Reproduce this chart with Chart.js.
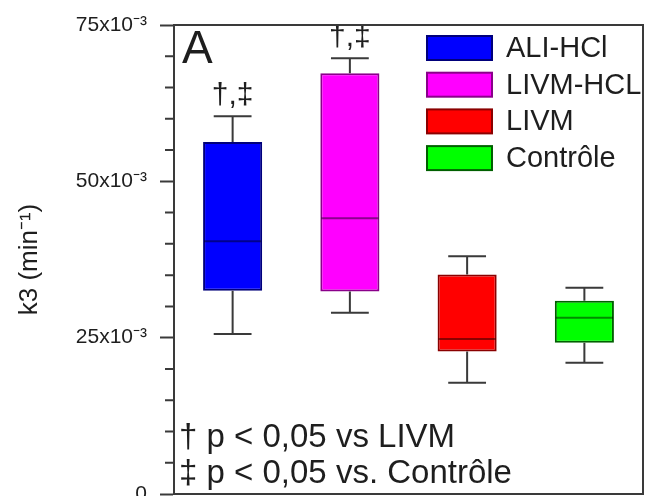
<!DOCTYPE html>
<html><head><meta charset="utf-8">
<script src="https://cdn.jsdelivr.net/npm/chart.js@4/dist/chart.umd.min.js"></script>
<style>html,body{margin:0;padding:0;background:#fff}#wrap{width:652px;height:496px}</style>
</head><body><div id="wrap"><canvas id="c" width="652" height="496"></canvas></div>
<script>
const categories = ['ALI-HCl', 'LIVM-HCL', 'LIVM', 'Contrôle'];
const whiskerLow = [25.6, 29.0, 17.8, 21.0];
const q1 = [32.5, 32.4, 22.8, 24.2];
const median = [40.4, 44.1, 24.8, 28.2];
const q3 = [56.3, 67.3, 35.1, 30.9];
const whiskerHigh = [60.4, 69.7, 38.0, 33.0];
const significance = ['†,‡', '†,‡', '', ''];
const yTickLabels = {0: '0', 25: '25x10⁻³', 50: '50x10⁻³', 75: '75x10⁻³'};
const footnotes = ['† p < 0,05 vs LIVM', '‡ p < 0,05 vs. Contrôle'];
const panelLabel = 'A';
const yTitle = 'k3 (min⁻¹)';

const fillColors = ['#0000ff', '#ff00ff', '#ff0000', '#00ff00'];
const edgeColors = ['#00007a', '#8a008a', '#8a0000', '#006000'];
const FONT = "'Liberation Sans', Arial, sans-serif";
const INK = '#1e1e1e';
const AXIS = '#3a3a3a';

const overlay = {
  id: 'overlay',
  afterDatasetsDraw(chart) {
    const ctx = chart.ctx, y = chart.scales.y, ca = chart.chartArea;
    const meta = chart.getDatasetMeta(0);
    ctx.save();
    meta.data.forEach((bar, i) => {
      const x = bar.x, hw = bar.width * 0.32;
      const yh = y.getPixelForValue(whiskerHigh[i]);
      const yl = y.getPixelForValue(whiskerLow[i]);
      const yq1 = y.getPixelForValue(q1[i]);
      const yq3 = y.getPixelForValue(q3[i]);
      const ym = y.getPixelForValue(median[i]);
      ctx.strokeStyle = AXIS; ctx.lineWidth = 2;
      ctx.beginPath();
      ctx.moveTo(x, yq3); ctx.lineTo(x, yh);
      ctx.moveTo(x - hw, yh); ctx.lineTo(x + hw, yh);
      ctx.moveTo(x, yq1); ctx.lineTo(x, yl);
      ctx.moveTo(x - hw, yl); ctx.lineTo(x + hw, yl);
      ctx.stroke();
      ctx.strokeStyle = 'rgba(0,0,0,0.45)';
      ctx.beginPath();
      ctx.moveTo(x - bar.width / 2 + 1, ym); ctx.lineTo(x + bar.width / 2 - 1, ym);
      ctx.stroke();
      if (significance[i]) {
        ctx.fillStyle = INK;
        ctx.font = '30px ' + FONT;
        ctx.textAlign = 'center'; ctx.textBaseline = 'alphabetic';
        ctx.fillText(significance[i], x, yh - 12);
      }
    });
    // minor ticks
    ctx.strokeStyle = AXIS; ctx.lineWidth = 2;
    ctx.beginPath();
    for (let v = 5; v < 75; v += 5) {
      if (v % 25 === 0) continue;
      const py = y.getPixelForValue(v);
      ctx.moveTo(ca.left - 9, py); ctx.lineTo(ca.left, py);
    }
    ctx.stroke();
    // frame
    ctx.beginPath();
    ctx.moveTo(ca.left, ca.top); ctx.lineTo(ca.right, ca.top);
    ctx.lineTo(ca.right, ca.bottom); ctx.lineTo(ca.left, ca.bottom);
    ctx.stroke();
    // panel label
    ctx.fillStyle = INK;
    ctx.textAlign = 'left'; ctx.textBaseline = 'alphabetic';
    ctx.font = '46px ' + FONT;
    ctx.fillText(panelLabel, ca.left + 8, ca.top + 38);
    // legend
    ctx.font = '29px ' + FONT;
    ctx.textBaseline = 'middle';
    categories.forEach((c, i) => {
      const sx = ca.right - 216, sy = ca.top + 11 + i * 36.7, w = 65, h = 24;
      ctx.fillStyle = fillColors[i];
      ctx.fillRect(sx, sy, w, h);
      ctx.strokeStyle = edgeColors[i]; ctx.lineWidth = 2;
      ctx.strokeRect(sx, sy, w, h);
      ctx.fillStyle = INK;
      ctx.fillText(c, sx + 79, sy + h / 2 + 1);
    });
    // footnotes
    ctx.font = '33px ' + FONT;
    ctx.textBaseline = 'alphabetic';
    ctx.fillText(footnotes[0], ca.left + 5, ca.bottom - 47);
    ctx.fillText(footnotes[1], ca.left + 5, ca.bottom - 11);
    ctx.restore();
  }
};

new Chart(document.getElementById('c'), {
  type: 'bar',
  data: {
    labels: categories,
    datasets: [{
      data: q1.map((v, i) => [v, q3[i]]),
      backgroundColor: fillColors,
      borderColor: edgeColors,
      borderWidth: 2,
      borderSkipped: false,
      barPercentage: 0.504,
      categoryPercentage: 1
    }]
  },
  options: {
    responsive: false,
    animation: false,
    devicePixelRatio: 1,
    layout: {padding: {left: 0, right: 9, top: 25, bottom: 2}},
    plugins: {legend: {display: false}, tooltip: {enabled: false}},
    scales: {
      x: {display: false},
      y: {
        min: 0, max: 75,
        afterFit(s) { s.width = 174; s.paddingTop = 0; s.paddingBottom = 0; },
        border: {display: true, color: AXIS, width: 2},
        grid: {
          drawOnChartArea: false, drawTicks: true, tickLength: 14, tickWidth: 2,
          tickColor: (c) => (c.tick && c.tick.value % 25 === 0) ? AXIS : 'rgba(0,0,0,0)'
        },
        ticks: {
          stepSize: 5, autoSkip: false, padding: 13, color: INK,
          font: {family: FONT, size: 21},
          callback: (v) => (yTickLabels[v] !== undefined ? yTickLabels[v] : '')
        },
        title: {
          display: true, text: yTitle, color: INK,
          font: {family: FONT, size: 26}, padding: {top: 14, bottom: 4}
        }
      }
    }
  },
  plugins: [overlay]
});
</script></body></html>
